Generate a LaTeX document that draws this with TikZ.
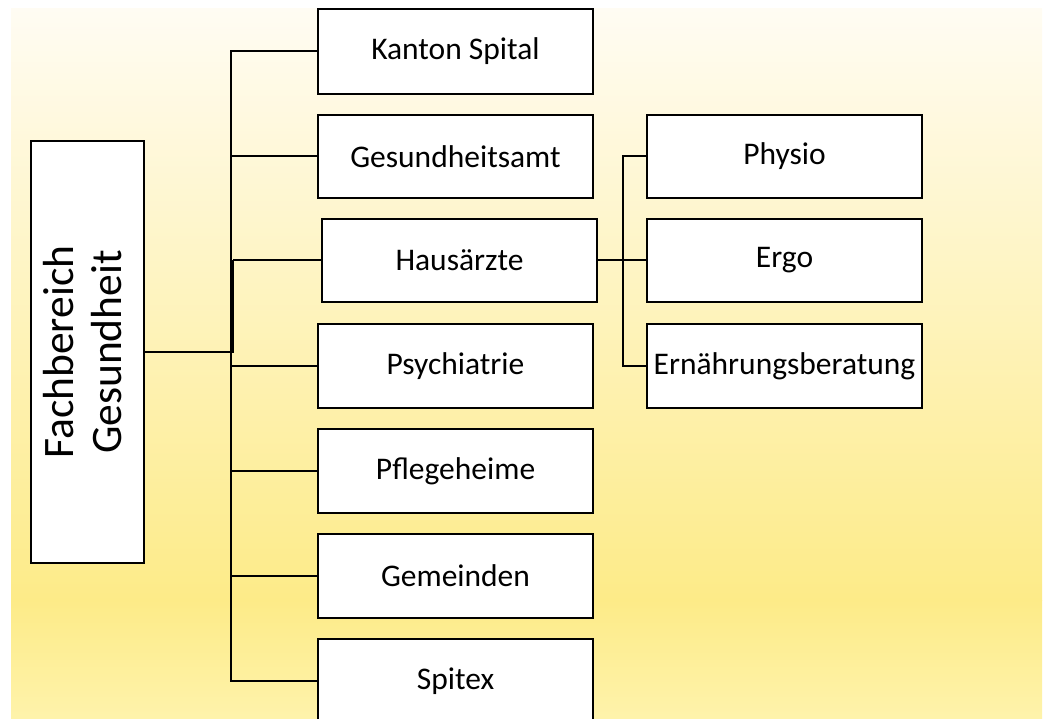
\documentclass[tikz,border=0pt]{standalone}
\usepackage{fontspec}
\setmainfont{Carlito}
\definecolor{bgtop}{HTML}{FFFCF3}
\definecolor{bgmid}{HTML}{FDEB88}
\definecolor{bgbot}{HTML}{FEF3AB}
\tikzset{
  box/.style={draw=black, line width=2.2pt, fill=white, inner sep=0pt,
    minimum width=275pt, minimum height=84pt,
    font=\fontsize{31.5}{37}\selectfont},
  conn/.style={draw=black, line width=2pt},
  thickconn/.style={draw=black, line width=3.6pt}
}
\begin{document}
\begin{tikzpicture}[x=1pt,y=-1pt]
\useasboundingbox (0,0) rectangle (1044,719);
\begin{scope}
\clip (0,0) rectangle (1044,719);
\shade[top color=bgtop, bottom color=bgmid] (11,9) rectangle (1042,600.5);
\shade[top color=bgmid, bottom color=bgbot] (11,600) rectangle (1042,719);

\coordinate (bus) at (231,0);
\coordinate (bus2) at (232.5,0);
\coordinate (rbus) at (623,0);

\node[box, minimum width=113pt, minimum height=422pt] (fach) at (87.5,352)
  {\rotatebox{90}{\fontsize{43.5}{51}\selectfont\begin{tabular}{@{}c@{}}Fachbereich\\[-3pt]Gesundheit\end{tabular}}};

\node[box, minimum height=85pt] (kanton) at (455.5,51.5) {Kanton Spital};
\node[box, minimum height=83pt] (gesund) at (455.5,156.5) {Gesundheitsamt};
\node[box, minimum height=83pt] (haus) at (459.5,260.5) {Hausärzte};
\node[box] (psych) at (455.5,366) {Psychiatrie};
\node[box] (pflege) at (455.5,471) {Pflegeheime};
\node[box] (gemeinden) at (455.5,576) {Gemeinden};
\node[box] (spitex) at (455.5,681) {Spitex};

\node[box, minimum height=83pt] (physio) at (784.5,156.5) {Physio};
\node[box, minimum height=83pt] (ergo) at (784.5,260.5) {Ergo};
\node[box] (ern) at (784.5,366) {Ernährungsberatung};

% main bus
\draw[conn] (kanton.west) -- (kanton.west -| bus) -- (spitex.west -| bus) -- (spitex.west);
\draw[conn] (gesund.west) -- (gesund.west -| bus);
\draw[conn] (psych.west) -- (psych.west -| bus);
\draw[conn] (pflege.west) -- (pflege.west -| bus);
\draw[conn] (gemeinden.west) -- (gemeinden.west -| bus);
% Hausaerzte link
\draw[conn] (haus.west) -- (haus.west -| bus2);
\draw[thickconn] (haus.west -| bus2) -- (fach.east -| bus2);
\draw[conn] (fach.east) -- ([xshift=1.8pt]fach.east -| bus2);
% right tree
\draw[conn] (haus.east) -- (ergo.west);
\draw[conn] (physio.west) -- (physio.west -| rbus) -- (ern.west -| rbus) -- (ern.west);
\end{scope}
\end{tikzpicture}
\end{document}
